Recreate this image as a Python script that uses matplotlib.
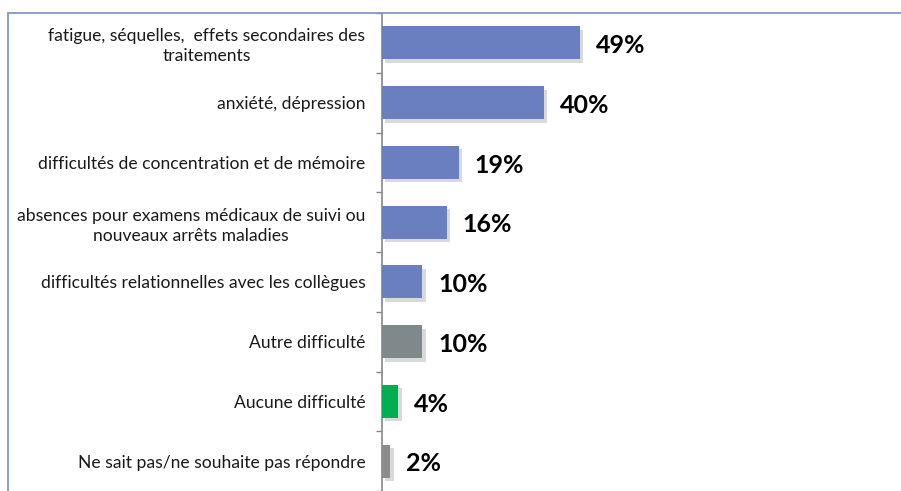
import matplotlib
matplotlib.use("Agg")
import matplotlib.pyplot as plt
import matplotlib.patheffects as pe
from matplotlib.patches import Rectangle
import numpy as np

categories = [
    "fatigue, séquelles,  effets secondaires des\ntraitements",
    "anxiété, dépression",
    "difficultés de concentration et de mémoire",
    "absences pour examens médicaux de suivi ou\nnouveaux arrêts maladies",
    "difficultés relationnelles avec les collègues",
    "Autre difficulté",
    "Aucune difficulté",
    "Ne sait pas/ne souhaite pas répondre",
]
values = [49, 40, 19, 16, 10, 10, 4, 2]
colors = ["#6a7fc0"] * 5 + ["#7f898c", "#00b050", "#8c8c8c"]

plt.rcParams['font.family'] = ['Lato', 'DejaVu Sans']

W, H = 901, 491
fig = plt.figure(figsize=(W / 100, H / 100), dpi=100)
fig.patch.set_facecolor("white")

# outer frame
frame = Rectangle((8 / W, -0.1), 2.0, (1 - 13 / H) + 0.1, transform=fig.transFigure,
                  fill=False, edgecolor="#8497cf", linewidth=1.3, zorder=0)
fig.patches.append(frame)

ax_left = 382 / W
ax_top = 1 - 13 / H
ax_bottom = 0 - 2 / H
ax = fig.add_axes([ax_left, ax_bottom, 1 - ax_left, ax_top - ax_bottom])
ax.set_facecolor("none")

n = len(categories)
y = np.arange(n)
bars = ax.barh(y, values, height=0.55, color=colors, zorder=3)
for b in bars:
    b.set_path_effects([pe.SimplePatchShadow(offset=(2.5, -2.5), alpha=0.22, shadow_rgbFace="#555555"),
                        pe.Normal()])

px_per_pct = 4.04
ax.set_xlim(0, (W - 382) / px_per_pct)
ax.set_ylim(n - 0.5 + 2 / 60, -0.5)

for yi, v in zip(y, values):
    ax.annotate(f"{v}%", (v, yi), xytext=(11.5, -2), textcoords="offset points",
                ha="left", va="center", fontsize=18, fontweight="bold", color="black")

ax.set_yticks(y)
ax.set_yticklabels(categories, fontsize=12.6, color="#1a1a1a", multialignment="center",
                   linespacing=1.3)
ax.tick_params(axis="y", which="major", length=0, pad=12)
ax.set_yticks(np.arange(-0.5, n, 1.0), minor=True)
ax.tick_params(axis="y", which="minor", length=4, color="#888888", width=1)
ax.set_xticks([])

for s in ["top", "right", "bottom"]:
    ax.spines[s].set_visible(False)
ax.spines["left"].set_color("#888888")
ax.spines["left"].set_linewidth(1.2)

fig.savefig("out.png", dpi=100)
